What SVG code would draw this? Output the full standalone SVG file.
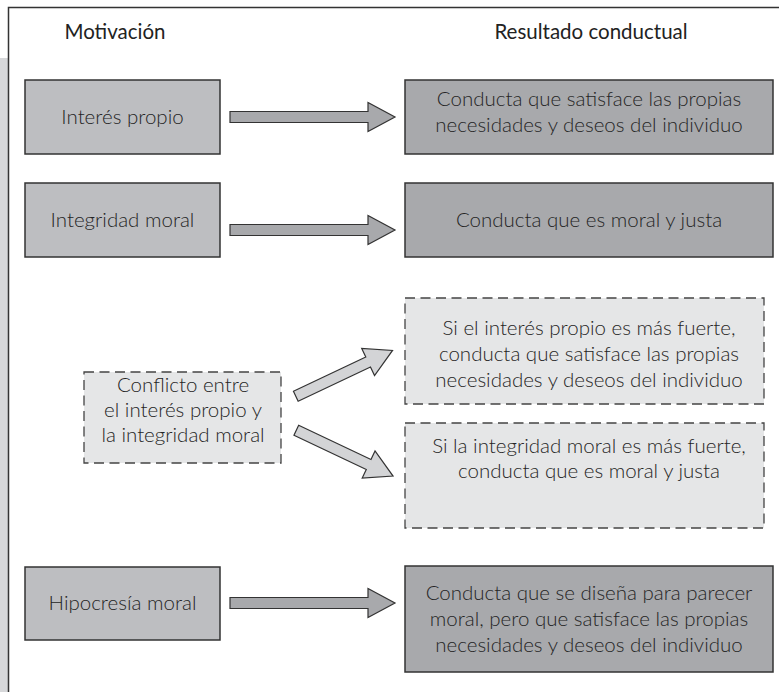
<svg xmlns="http://www.w3.org/2000/svg" width="779" height="692" viewBox="0 0 779 692">
<style>
  text { font-family: Lato, "Open Sans", "Liberation Sans", sans-serif; font-size: 20.5px; font-weight: 300; fill: #252525; text-anchor: middle; }
  .hdr { fill: #222; font-weight: 400; }
  .mot { fill: #bdbec1; stroke: #333; stroke-width: 1.5; }
  .res { fill: #a8a9ac; stroke: #333; stroke-width: 1.5; }
  .dash { fill: #e5e6e7; stroke: #444; stroke-width: 1.3; stroke-dasharray: 10 5.5; }
  .harrow { fill: #a8a9ac; stroke: #333; stroke-width: 1.2; }
  .darrow { fill: #d3d4d6; stroke: #333; stroke-width: 1.2; }
</style>
<rect x="0" y="58" width="8" height="634" fill="#d6d7d9"/>
<path d="M8.5 692 V7.5 H779" fill="none" stroke="#333" stroke-width="1.5"/>
<text class="hdr" x="115" y="39">Motivación</text>
<text class="hdr" x="591" y="39">Resultado conductual</text>

<g id="n-interes">
  <rect class="mot" x="25" y="80" width="195" height="74"/>
  <text x="122.5" y="124">Interés propio</text>
</g>
<g id="n-interes-res">
  <rect class="res" x="405" y="80" width="368" height="74"/>
  <text x="589" y="106">Conducta que satisface las propias</text>
  <text x="589" y="132">necesidades y deseos del individuo</text>
</g>
<g id="n-integridad">
  <rect class="mot" x="25" y="183" width="195" height="74"/>
  <text x="122.5" y="227">Integridad moral</text>
</g>
<g id="n-integridad-res">
  <rect class="res" x="405" y="183" width="368" height="74"/>
  <text x="589" y="227">Conducta que es moral y justa</text>
</g>
<g id="n-conflicto">
  <rect class="dash" x="84" y="372" width="197" height="91"/>
  <text x="183" y="392">Conflicto entre</text>
  <text x="183" y="417">el interés propio y</text>
  <text x="183" y="442">la integridad moral</text>
</g>
<g id="n-conflicto-res1">
  <rect class="dash" x="405" y="298" width="359" height="106"/>
  <text x="589" y="335">Si el interés propio es más fuerte,</text>
  <text x="589" y="361">conducta que satisface las propias</text>
  <text x="589" y="387">necesidades y deseos del individuo</text>
</g>
<g id="n-conflicto-res2">
  <rect class="dash" x="405" y="423" width="359" height="105"/>
  <text x="589" y="453">Si la integridad moral es más fuerte,</text>
  <text x="589" y="478">conducta que es moral y justa</text>
</g>
<g id="n-hipocresia">
  <rect class="mot" x="25" y="567" width="195" height="73"/>
  <text x="122.5" y="610">Hipocresía moral</text>
</g>
<g id="n-hipocresia-res">
  <rect class="res" x="405" y="566" width="368" height="106"/>
  <text x="589" y="600">Conducta que se diseña para parecer</text>
  <text x="589" y="626">moral, pero que satisface las propias</text>
  <text x="589" y="652">necesidades y deseos del individuo</text>
</g>

<g id="connectors">
  <polygon class="harrow" points="230,111.5 368,111.5 368,102.5 395,117 368,131.5 368,122.5 230,122.5"/>
  <polygon class="harrow" points="230,224.5 368,224.5 368,215.5 395,230 368,244.5 368,235.5 230,235.5"/>
  <polygon class="harrow" points="230,597.5 368,597.5 368,588.5 395,603 368,617.5 368,608.5 230,608.5"/>
  <polygon class="darrow" transform="translate(295.8,396.2) rotate(-25.3)" points="0,-5.5 80,-5.5 80,-15 107,0 80,15 80,5.5 0,5.5"/>
  <polygon class="darrow" transform="translate(296.3,430.3) rotate(25.3)" points="0,-5.5 80,-5.5 80,-15 107,0 80,15 80,5.5 0,5.5"/>
</g>
</svg>
